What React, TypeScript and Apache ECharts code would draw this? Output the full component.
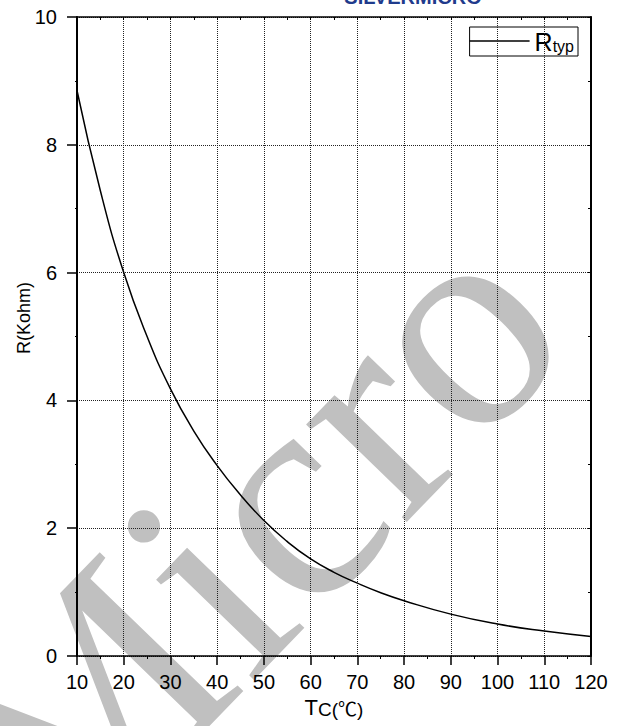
import React, { useEffect, useRef } from "react";
import * as echarts from "echarts";

const temps = [10, 15, 20, 25, 30, 35, 40, 45, 50, 55, 60, 65, 70, 75, 80, 90, 100, 110, 120];
const rTyp = [8.85, 7.28, 6.0, 5.0, 4.18, 3.52, 2.98, 2.52, 2.12, 1.79, 1.52, 1.31, 1.14, 0.99, 0.865, 0.655, 0.5, 0.39, 0.305];
const seriesName = "Rtyp";
const xTitle = "{a|T}{b|C(℃)}";
const yTitle = "R(Kohm)";
const brand = "SILVERMICRO";
const watermark = "Micro";

const FONT = "'Liberation Sans', Arial, sans-serif";

export default function App() {
  const ref = useRef<HTMLDivElement>(null);
  useEffect(() => {
    if (!ref.current) return;
    const chart = echarts.init(ref.current, undefined, { renderer: "svg" });
    const data = temps.map((t, i) => [t, rTyp[i]]);
    const dotted = { color: "#222", width: 1, type: [1, 1] as any };
    chart.setOption({
      animation: false,
      backgroundColor: "#fff",
      textStyle: { fontFamily: FONT },
      grid: { left: 77, right: 33, top: 17, bottom: 70, containLabel: false },
      legend: {
        right: 46,
        top: 27,
        data: [seriesName],
        icon: "rect",
        itemWidth: 60,
        itemHeight: 1.5,
        itemGap: 0,
        padding: [2, 4, 2, 0],
        borderColor: "#000",
        borderWidth: 1,
        borderRadius: 0,
        formatter: () => "{r|R}{s|typ}",
        textStyle: {
          rich: {
            r: { fontSize: 25, fontFamily: FONT, color: "#000", verticalAlign: "bottom", lineHeight: 26 },
            s: { fontSize: 16, fontFamily: FONT, color: "#000", verticalAlign: "bottom", lineHeight: 26 },
          },
        },
      },
      xAxis: [
        {
          type: "value",
          position: "bottom",
          min: 10,
          max: 120,
          interval: 10,
          z: 10,
          axisLine: { show: true, onZero: false, lineStyle: { color: "#000", width: 1.5 } },
          axisTick: { show: true, inside: false, length: 9, lineStyle: { color: "#000", width: 1.5 } },
          minorTick: { show: true, splitNumber: 2, length: 3, lineStyle: { color: "#000", width: 1 } },
          axisLabel: { fontSize: 20, color: "#000", margin: 16, fontFamily: FONT },
          splitLine: { show: true, lineStyle: dotted },
          name: xTitle,
          nameLocation: "middle",
          nameGap: 38,
          nameTextStyle: {
            rich: {
              a: { fontSize: 22, fontFamily: FONT, color: "#000", verticalAlign: "bottom", lineHeight: 24 },
              b: { fontSize: 19, fontFamily: "'Liberation Sans', 'Noto Sans CJK SC', sans-serif", color: "#000", verticalAlign: "bottom", lineHeight: 24 },
            },
          },
        },
        {
          type: "value",
          position: "top",
          min: 10,
          max: 120,
          interval: 10,
          z: 10,
          axisLine: { show: true, onZero: false, lineStyle: { color: "#000", width: 1.5 } },
          axisTick: { show: true, inside: true, length: 3, lineStyle: { color: "#000", width: 1 } },
          minorTick: { show: true, splitNumber: 2, length: 3, lineStyle: { color: "#000", width: 1 } },
          axisLabel: { show: false },
          splitLine: { show: false },
        },
      ],
      yAxis: [
        {
          type: "value",
          position: "left",
          min: 0,
          max: 10,
          interval: 2,
          z: 10,
          axisLine: { show: true, onZero: false, lineStyle: { color: "#000", width: 2 } },
          axisTick: { show: true, inside: false, length: 10, lineStyle: { color: "#000", width: 1.5 } },
          minorTick: { show: true, splitNumber: 2, length: 2, lineStyle: { color: "#000", width: 1 } },
          axisLabel: { fontSize: 20, color: "#000", margin: 20, fontFamily: FONT },
          splitLine: { show: true, lineStyle: dotted },
        },
        {
          type: "value",
          position: "right",
          min: 0,
          max: 10,
          interval: 2,
          z: 10,
          axisLine: { show: true, onZero: false, lineStyle: { color: "#000", width: 2 } },
          axisTick: { show: true, inside: true, length: 3, lineStyle: { color: "#000", width: 1 } },
          minorTick: { show: true, splitNumber: 2, length: 3, lineStyle: { color: "#000", width: 1 } },
          axisLabel: { show: false },
          splitLine: { show: false },
        },
      ],
      series: [
        {
          name: seriesName,
          type: "line",
          xAxisIndex: 0,
          yAxisIndex: 0,
          data,
          smooth: 0.5,
          showSymbol: false,
          symbol: "none",
          z: 12,
          lineStyle: { color: "#000", width: 1.5 },
          itemStyle: { color: "#000" },
        },
      ],
      graphic: [
        {
          type: "text",
          x: 246,
          y: 540,
          rotation: (46 * Math.PI) / 180,
          z: -5,
          silent: true,
          style: {
            text: watermark,
            font: "305px 'Liberation Serif', 'Times New Roman', serif",
            fill: "#c0c0c0",
            align: "center",
            verticalAlign: "middle",
          },
        },
        {
          type: "text",
          x: 413,
          y: -3,
          z: 1,
          silent: true,
          style: {
            text: brand,
            font: "bold 20px 'Liberation Sans', Arial, sans-serif",
            fill: "#1f3b8c",
            align: "center",
            verticalAlign: "middle",
          },
        },
        {
          type: "text",
          x: 24,
          y: 318,
          rotation: Math.PI / 2,
          z: 1,
          style: {
            text: yTitle,
            font: "18px 'Liberation Sans', Arial, sans-serif",
            fill: "#000",
            align: "center",
            verticalAlign: "middle",
          },
        },
      ],
    });
    return () => chart.dispose();
  }, []);
  return (
    <div
      ref={ref}
      style={{ position: "fixed", left: 0, top: 0, width: 624, height: 726, background: "#fff" }}
    />
  );
}
